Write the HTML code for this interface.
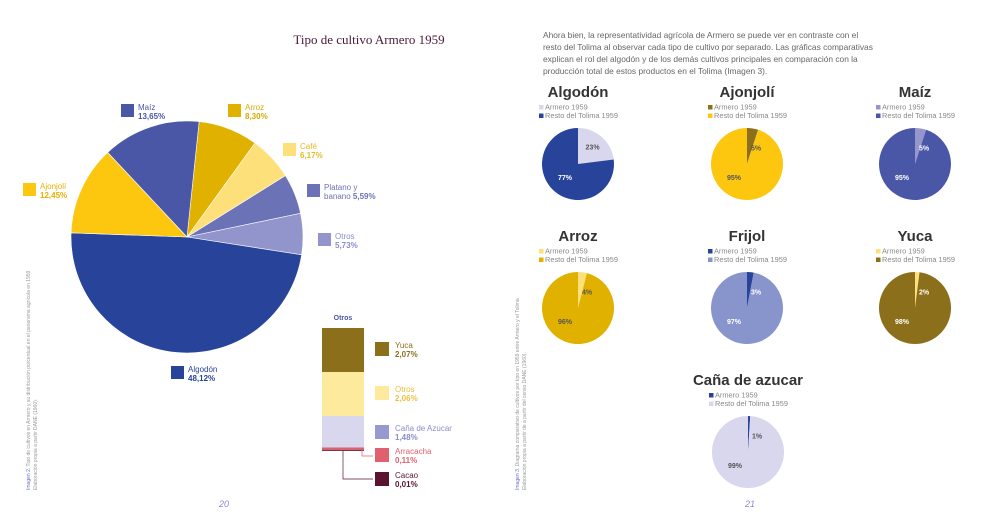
<!DOCTYPE html>
<html><head><meta charset="utf-8">
<style>
body{margin:0;background:#fff;font-family:"Liberation Sans",sans-serif;}
#wrap{position:relative;width:992px;height:521px;overflow:hidden;}
svg{position:absolute;left:0;top:0;}
</style></head>
<body>
<div id="wrap">
<svg id="s" width="992" height="521" viewBox="0 0 992 521">
<text x="369" y="44" text-anchor="middle" font-family="Liberation Serif,serif" font-size="13" fill="#4a1838">Tipo de cultivo Armero 1959</text>
<g font-size="8.4" fill="#666">
<text x="543" y="38">Ahora bien, la representatividad agrícola de Armero se puede ver en contraste con el</text>
<text x="543" y="50">resto del Tolima al observar cada tipo de cultivo por separado. Las gráficas comparativas</text>
<text x="543" y="62">explican el rol del algodón y de los demás cultivos principales en comparación con la</text>
<text x="543" y="74">producción total de estos productos en el Tolima (Imagen 3).</text>
</g>
<g font-size="5" fill="#999">
<text transform="translate(30,490) rotate(-90)"><tspan fill="#6a6ad0">Imagen 2.</tspan> Tipo de cultivos en Armero y su distribución porcentual en el panorama agrícola en 1959</text>
<text transform="translate(37,490) rotate(-90)">Elaboración propia a partir DANE (1960).</text>
</g>
<g font-size="5" fill="#999">
<text transform="translate(519,490) rotate(-90)"><tspan fill="#6a6ad0">Imagen 3.</tspan> Diagrama comparativo de cultivos por tipo en 1959 entre Armero y el Tolima</text>
<text transform="translate(526,490) rotate(-90)">Elaboración propia a partir de a partir del censo DANE (1960).</text>
</g>
<text x="224" y="507" text-anchor="middle" font-size="9" font-style="italic" fill="#8a8ad8">20</text>
<text x="750" y="507" text-anchor="middle" font-size="9" font-style="italic" fill="#8a8ad8">21</text>
<g id="main"></g>
<g id="bar"></g>
<g id="small"></g>
</svg>
</div>
<script>
const mainCats=["Arroz","Café","Platano y banano","Otros","Algodón","Ajonjolí","Maíz"];
const mainVals=[8.30,6.17,5.59,5.73,48.12,12.45,13.65];
const mainLabels=["8,30%","6,17%","5,59%","5,73%","48,12%","12,45%","13,65%"];
const barCats=["Yuca","Otros","Caña de Azucar","Arracacha","Cacao"];
const barVals=[2.07,2.06,1.48,0.11,0.01];
const barLabels=["2,07%","2,06%","1,48%","0,11%","0,01%"];
const smallTitles=["Algodón","Ajonjolí","Maíz","Arroz","Frijol","Yuca","Caña de azucar"];
const armeroVals=[23,5,5,4,3,2,1];
const restoVals=[77,95,95,96,97,98,99];

const NS="http://www.w3.org/2000/svg";
function mk(tag,attrs,parent){const e=document.createElementNS(NS,tag);for(const k in attrs)e.setAttribute(k,attrs[k]);parent.appendChild(e);return e;}
function arc(cx,cy,r,a0,a1){
 const rad=a=>(a-90)*Math.PI/180;
 if(a1-a0>=359.99){return `M${cx-r},${cy}A${r},${r} 0 1 1 ${cx+r},${cy}A${r},${r} 0 1 1 ${cx-r},${cy}Z`;}
 const x0=cx+r*Math.cos(rad(a0)),y0=cy+r*Math.sin(rad(a0)),x1=cx+r*Math.cos(rad(a1)),y1=cy+r*Math.sin(rad(a1));
 return `M${cx},${cy}L${x0},${y0}A${r},${r} 0 ${a1-a0>180?1:0} 1 ${x1},${y1}Z`;}
function pt(cx,cy,r,a){const t=(a-90)*Math.PI/180;return [cx+r*Math.cos(t),cy+r*Math.sin(t)];}

const mainColors=["#e1b100","#fee07a","#6b72b6","#9295cc","#27449a","#fdc70f","#4a57a7"];
const mainText=["#d8a800","#e8b820","#6b72b6","#8a8dcc","#27449a","#e8b000","#4a57a7"];
const mainLegPos=[[228,104],[283,143],[307,184],[318,233],[171,366],[23,183],[121,104]];
const g=document.getElementById("main");
const tot=mainVals.reduce((a,b)=>a+b,0);
let a=6;
mainVals.forEach((v,i)=>{
 const sw=v/tot*360;
 const p=mk("path",{d:arc(187,237,116,a,a+sw),fill:mainColors[i],stroke:"#fff","stroke-width":0.6},g);
 
 
 a+=sw;
 const [lx,ly]=mainLegPos[i];
 const sq=mk("rect",{x:lx,y:ly,width:13,height:13,fill:mainColors[i]},g);
 
 
 const parts=mainCats[i]==="Platano y banano"?["Platano y","banano "]:[mainCats[i]];
 const t=mk("text",{x:lx+17,y:ly+6,"font-size":8,fill:mainText[i]},g);
 
 
 if(parts.length===2){
  t.textContent=parts[0];
  const t2=mk("text",{x:lx+17,y:ly+15,"font-size":8,fill:mainText[i]},g);
  t2.textContent=parts[1];
  const b=mk("tspan",{"font-weight":"bold"},t2);b.textContent=mainLabels[i];
  
  
 } else {
  t.textContent=mainCats[i];
  const t2=mk("text",{x:lx+17,y:ly+15,"font-size":8,"font-weight":"bold",fill:mainText[i]},g);
  t2.textContent=mainLabels[i];
  
  
 }
});

const bg=document.getElementById("bar");
const barColors=["#8c6f1a","#feea9c","#d9d7ee","#e0606e","#5b1430"];
const legColors=["#8c6f1a","#feea9c","#9799d0","#e0606e","#5b1430"];
const txtColors=["#8c6f1a","#e8c040","#8a8dcc","#e0606e","#5b1430"];
const legY=[342,386,425,448,472];
const bt=mk("text",{x:343,y:320,"text-anchor":"middle","font-size":7,"font-weight":"bold",fill:"#4a57a7"},bg);
bt.textContent="Otros";


const pxPer=21.3;let y=328;
barVals.forEach((v,i)=>{
 const h=Math.max(v*pxPer,1);
 const r=mk("rect",{x:322,y:y,width:42,height:h,fill:barColors[i]},bg);
 
 
 y+=h;
 const sq=mk("rect",{x:375,y:legY[i],width:14,height:14,fill:legColors[i]},bg);
 
 
 const t=mk("text",{x:395,y:legY[i]+6,"font-size":8,fill:txtColors[i]},bg);
 t.textContent=barCats[i];
 
 
 const t2=mk("text",{x:395,y:legY[i]+15,"font-size":8,"font-weight":"bold",fill:txtColors[i]},bg);
 t2.textContent=barLabels[i];
 
 
});
const l1=mk("path",{d:`M362,${y-1}V456H373`,fill:"none",stroke:"#e0606e","stroke-width":0.7},bg);


const l2=mk("path",{d:`M343,${y}V479H373`,fill:"none",stroke:"#5b1430","stroke-width":0.7},bg);



const sg=document.getElementById("small");
const centers=[[578,164],[747,164],[915,164],[578,308],[747,308],[915,308],[748,452]];
const armeroColors=["#d8d7ee","#8c6f1a","#9597cc","#fee07a","#27449a","#fee07a","#27449a"];
const restoColors=["#27449a","#fdc70f","#4a57a7","#e1b100","#8895cc","#8c6f1a","#d9d7ee"];
const armeroTxt=["#555","#555","#fff","#555","#fff","#fff","#555"];
const restoTxt=["#fff","#555","#fff","#555","#fff","#fff","#555"];
smallTitles.forEach((ti,i)=>{
 const [cx,cy]=centers[i];
 const T=mk("text",{x:cx,y:cy-67,"text-anchor":"middle","font-size":15,"font-weight":"bold",fill:"#333"},sg);
 T.textContent=ti;
 
 
 const lx=cx-39;
 [["Armero 1959",armeroColors[i]],["Resto del Tolima 1959",restoColors[i]]].forEach((L,k)=>{
  const s=mk("rect",{x:lx,y:cy-59+k*8.5,width:4.5,height:4.5,fill:L[1]},sg);
  
  
  const t=mk("text",{x:lx+6,y:cy-54.5+k*8.5,"font-size":7.4,fill:"#888"},sg);
  t.textContent=L[0];
  
  
 });
 const s=armeroVals[i]+restoVals[i];
 const aw=armeroVals[i]/s*360;
 const p1=mk("path",{d:arc(cx,cy,36,0,aw),fill:armeroColors[i]},sg);
 
 
 const p2=mk("path",{d:arc(cx,cy,36,aw,360),fill:restoColors[i]},sg);
 
 
 const ang=Math.max(aw/2,20);
 const [ax,ay]=pt(cx,cy,armeroVals[i]>10?22:18,ang+ (armeroVals[i]>10?0:10));
 const t1=mk("text",{x:ax,y:ay+2,"text-anchor":"middle","font-size":7,"font-weight":"bold",fill:armeroTxt[i]},sg);
 t1.textContent=armeroVals[i]+"%";
 
 
 const t2=mk("text",{x:cx-13,y:cy+16,"text-anchor":"middle","font-size":7,"font-weight":"bold",fill:restoTxt[i]},sg);
 t2.textContent=restoVals[i]+"%";
 
 
});
</script>
</body></html>
